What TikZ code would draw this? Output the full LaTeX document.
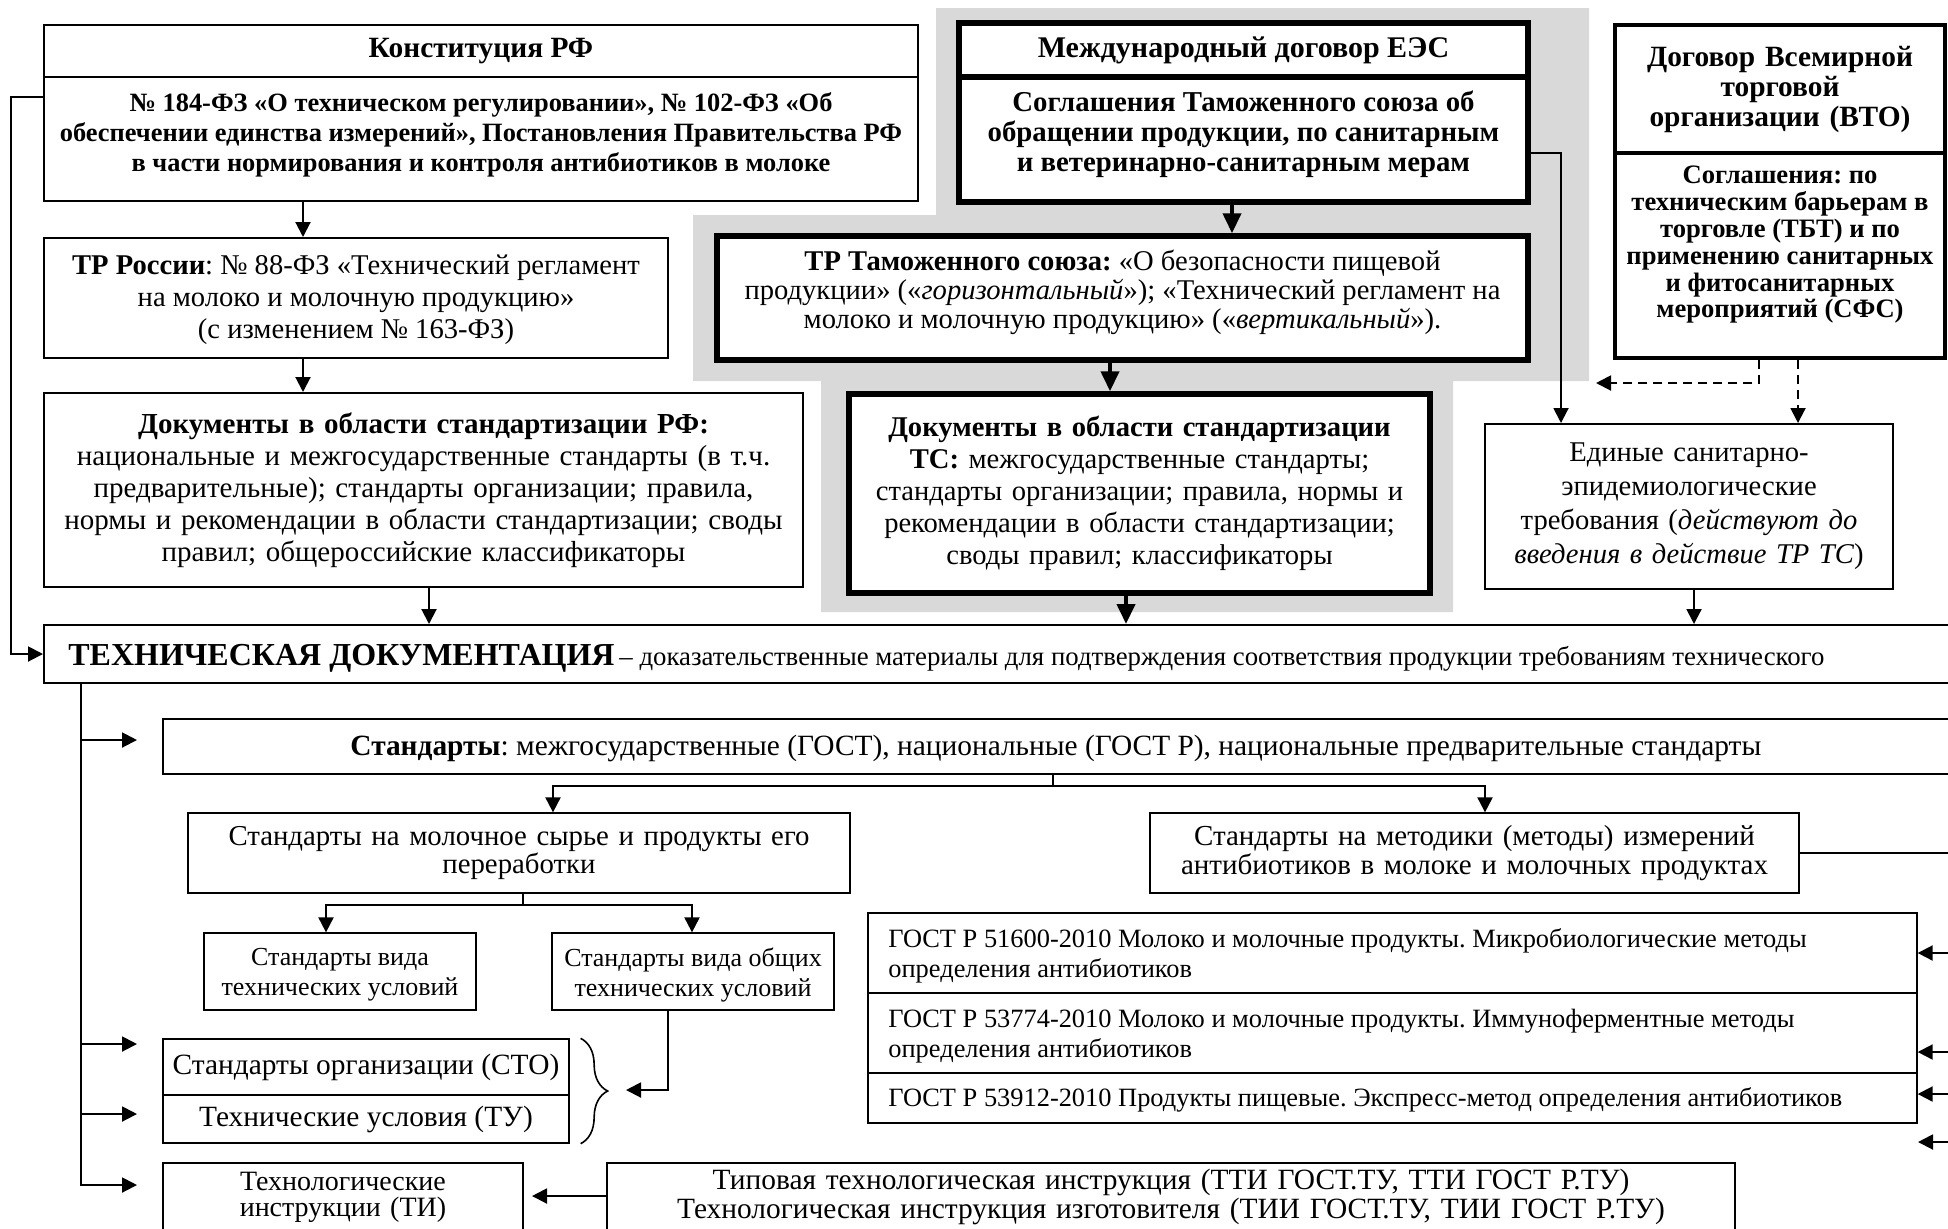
\documentclass[tikz,border=0pt]{standalone}
\usepackage{fontspec}
\setmainfont{Liberation Serif}
\usetikzlibrary{arrows.meta,decorations.pathreplacing}
\definecolor{shadegray}{RGB}{217,217,217}
\frenchspacing
\tikzset{
  box/.style={draw, line width=0.65pt, fill=white, inner sep=0pt, align=center},
  boxm/.style={box, line width=1pt},
  boxw/.style={box, line width=1.75pt},
  boxt/.style={box, line width=2.75pt},
  txt/.style={inner sep=0pt, align=center},
  ln/.style={line width=1pt},
  arr/.style={line width=1pt, -{Triangle[length=7.5pt,width=7.5pt]}},
  arrt/.style={line width=2pt, -{Triangle[length=10pt,width=9pt]}},
  arrd/.style={arr, dash pattern=on 4.5pt off 3pt},
}
\begin{document}
\begin{tikzpicture}[x=0.5pt,y=-0.5pt]
\useasboundingbox (0,0) rectangle (1948,1228);
\clip (0,0) rectangle (1948,1228);
\fill[white] (0,0) rectangle (1948,1228);
% gray background
\fill[shadegray] (936,8) -- (1589,8) -- (1589,381) -- (1453,381) -- (1453,612) -- (821,612) -- (821,381) -- (693,381) -- (693,215) -- (936,215) -- cycle;

% ---- top left
\node[boxm, font=\fontsize{14.7}{15}\selectfont\bfseries, minimum width=437pt, minimum height=26pt] (konstH) at (481,51) {Конституция РФ};
\node[boxm, minimum width=437pt, minimum height=62pt] (konstB) at (481,139) {};
\node[txt, font=\fontsize{13.2}{15}\selectfont\bfseries] (konstBT) at (481,135)
 {№ 184-ФЗ «О техническом регулировании», № 102-ФЗ «Об\\обеспечении единства измерений», Постановления Правительства РФ\\в части нормирования и контроля антибиотиков в молоке};
\node[boxm, minimum width=312pt, minimum height=60pt] (trRu) at (356,298) {};
\node[txt, font=\fontsize{14.3}{16}\selectfont] (trRuT) at (356,300)
 {\textbf{ТР России}: № 88-ФЗ «Технический регламент\\на молоко и молочную продукцию»\\(с изменением № 163-ФЗ)};
\node[boxm, font=\fontsize{14.5}{16}\selectfont, minimum width=379.5pt, minimum height=97pt, text width=376pt] (docRu) at (423.5,490)
 {\textbf{Документы в области стандартизации РФ:}\\национальные и межгосударственные стандарты (в т.ч.\\предварительные); стандарты организации; правила,\\нормы и рекомендации в области стандартизации; своды\\правил; общероссийские классификаторы};

% ---- middle (EES)
\node[boxt, font=\fontsize{15}{15}\selectfont\bfseries, minimum width=284.5pt, minimum height=27pt] (eesH) at (1243.5,50) {Международный договор ЕЭС};
\node[boxt, minimum width=284.5pt, minimum height=62.5pt] (eesB) at (1243.5,139.5) {};
\node[txt, font=\fontsize{14.4}{15}\selectfont\bfseries] (eesBT) at (1243.5,134)
 {Соглашения Таможенного союза об\\обращении продукции, по санитарным\\и ветеринарно-санитарным мерам};
\node[boxt, minimum width=405.5pt, minimum height=62pt] (trTs) at (1122.5,298) {};
\node[txt, font=\fontsize{14.3}{14.5}\selectfont] (trTsT) at (1122.5,292)
 {\textbf{ТР Таможенного союза:} «О безопасности пищевой\\продукции» («\textit{горизонтальный}»); «Технический регламент на\\молоко и молочную продукцию» («\textit{вертикальный}»).};
\node[boxt, font=\fontsize{14.3}{16}\selectfont, minimum width=290.5pt, minimum height=99.5pt, text width=287pt] (docTs) at (1139.5,493.5)
 {\textbf{Документы в области стандартизации}\\\textbf{ТС:} межгосударственные стандарты;\\стандарты организации; правила, нормы и\\рекомендации в области стандартизации;\\своды правил; классификаторы};

% ---- right (WTO)
\node[boxw, font=\fontsize{14.7}{15}\selectfont\bfseries, minimum width=165pt, minimum height=64pt, text width=162pt] (wtoH) at (1780,89)
 {Договор Всемирной\\торговой\\организации (ВТО)};
\node[boxw, minimum width=165pt, minimum height=102.5pt] (wtoB) at (1780,255.5) {};
\node[txt, font=\fontsize{13.3}{13.4}\selectfont\bfseries] (wtoBT) at (1780,245)
 {Соглашения: по\\техническим барьерам в\\торговле (ТБТ) и по\\применению санитарных\\и фитосанитарных\\мероприятий (СФС)};
\node[boxm, font=\fontsize{14.3}{17}\selectfont, minimum width=204pt, minimum height=82.5pt, text width=202pt] (edin) at (1689,506.5)
 {Единые санитарно-\\эпидемиологические\\требования (\textit{действуют до}\\\textit{введения в действие ТР ТС})};

% ---- technical documentation
\node[boxm, minimum width=958pt, minimum height=29pt] (tech) at (1002,654) {};
\node[txt, anchor=base west] (techT) at (68,665)
 {{\fontsize{16}{18}\selectfont\bfseries ТЕХНИЧЕСКАЯ ДОКУМЕНТАЦИЯ} {\fontsize{13.4}{14}\selectfont – доказательственные материалы для подтверждения соответствия продукции требованиям технического}};

% ---- standards
\node[box, minimum width=898.5pt, minimum height=27.5pt] (std) at (1061.5,746.5) {};
\node[txt, anchor=base west, font=\fontsize{14.7}{15}\selectfont] (stdT) at (350,755)
 {\textbf{Стандарты}: межгосударственные (ГОСТ), национальные (ГОСТ Р), национальные предварительные стандарты};
\node[box, font=\fontsize{14.4}{14}\selectfont, minimum width=331pt, minimum height=40pt, text width=328pt] (molo) at (519,853)
 {Стандарты на молочное сырье и продукты его\\переработки};
\node[box, font=\fontsize{14.5}{14.5}\selectfont, minimum width=324.5pt, minimum height=40pt, text width=322pt] (meth) at (1474.5,853)
 {Стандарты на методики (методы) измерений\\антибиотиков в молоке и молочных продуктах};
\node[box, minimum width=136pt, minimum height=38.5pt] (vidTU) at (340,971.5) {};
\node[txt, font=\fontsize{13}{15}\selectfont] (vidTUT) at (340,975)
 {Стандарты вида\\технических условий};
\node[box, minimum width=141pt, minimum height=38.5pt] (obTU) at (693,971.5) {};
\node[txt, font=\fontsize{13}{15}\selectfont] (obTUT) at (693,975)
 {Стандарты вида общих\\технических условий};
\node[box, font=\fontsize{14.7}{15}\selectfont, minimum width=203pt, minimum height=28pt] (sto) at (366,1067) {Стандарты организации (СТО)};
\node[box, font=\fontsize{14.7}{15}\selectfont, minimum width=203pt, minimum height=24pt] (tu) at (366,1119) {Технические условия (ТУ)};
\node[box, font=\fontsize{14}{13}\selectfont, minimum width=180pt, minimum height=34pt, text width=178pt] (ti) at (343,1197)
 {Технологические\\инструкции (ТИ)};
\node[box, font=\fontsize{14.7}{12.5}\selectfont, minimum width=564pt, minimum height=34pt, text width=562pt] (typ) at (1171,1197)
 {Типовая технологическая инструкция (ТТИ ГОСТ.ТУ, ТТИ ГОСТ Р.ТУ)\\Технологическая инструкция изготовителя (ТИИ ГОСТ.ТУ, ТИИ ГОСТ Р.ТУ)};
\node[box, minimum width=524.5pt, minimum height=40pt] (g1) at (1392.5,953) {};
\node[box, minimum width=524.5pt, minimum height=40pt] (g2) at (1392.5,1033) {};
\node[box, minimum width=524.5pt, minimum height=25pt] (g3) at (1392.5,1098) {};
\node[txt, align=left, anchor=west, font=\fontsize{13.2}{15}\selectfont] (g1T) at (888,956)
 {ГОСТ Р 51600-2010 Молоко и молочные продукты. Микробиологические методы\\определения антибиотиков};
\node[txt, align=left, anchor=west, font=\fontsize{13.2}{15}\selectfont] (g2T) at (888,1036)
 {ГОСТ Р 53774-2010 Молоко и молочные продукты. Иммуноферментные методы\\определения антибиотиков};
\node[txt, align=left, anchor=west, font=\fontsize{13.2}{15}\selectfont] (g3T) at (888,1100)
 {ГОСТ Р 53912-2010 Продукты пищевые. Экспресс-метод определения антибиотиков};

% ---- helper coordinates
\coordinate (v1) at (303,0);
\coordinate (v2) at (429,0);
\coordinate (v3) at (1232,0);
\coordinate (v4) at (1110,0);
\coordinate (v5) at (1126,0);
\coordinate (v6) at (1561,153);
\coordinate (v7) at (1759,383);
\coordinate (v8) at (1596,383);
\coordinate (v9) at (1798,0);
\coordinate (v10) at (1694,0);
\coordinate (fb) at (11,97);
\coordinate (tr) at (81,0);
\coordinate (a1) at (137,740);
\coordinate (a2) at (137,1044);
\coordinate (a3) at (137,1114);
\coordinate (a4) at (137,1185);
\coordinate (j1) at (1053,786);
\coordinate (m1) at (553,0);
\coordinate (m2) at (1485,0);
\coordinate (j2) at (523,905);
\coordinate (d1) at (326,0);
\coordinate (d2) at (692,0);
\coordinate (e1) at (668,0);
\coordinate (e2) at (626,1090);
\coordinate (rE) at (1965,0);
\coordinate (b2) at (0,1052);
\coordinate (b3) at (0,1094);
\coordinate (b4) at (1918,1142);
\coordinate (t1) at (532,1196);

% ---- connectors
\draw[arr] (konstB.south -| v1) -- (trRu.north -| v1);
\draw[arr] (trRu.south -| v1) -- (docRu.north -| v1);
\draw[arr] (docRu.south -| v2) -- (tech.north -| v2);
\draw[arrt] (eesB.south -| v3) -- (trTs.north -| v3);
\draw[arrt] (trTs.south -| v4) -- (docTs.north -| v4);
\draw[arrt] (docTs.south -| v5) -- (tech.north -| v5);
\draw[arr] (eesB.east |- v6) -| (edin.north -| v6);
\draw[arrd] (wtoB.south -| v7) |- (v8);
\draw[arrd] (wtoB.south -| v9) -- (edin.north -| v9);
\draw[arr] (edin.south -| v10) -- (tech.north -| v10);
\draw[arr] (konstB.west |- fb) -- (fb) |- (tech.west);
% trunk
\draw[arr] (tech.south -| tr) |- (a4);
\draw[arr] (tr |- a1) -- (a1);
\draw[arr] (tr |- a2) -- (a2);
\draw[arr] (tr |- a3) -- (a3);
% standards tree
\draw[ln] (std.south -| j1) -- (j1);
\draw[arr] (j1) -| (molo.north -| m1);
\draw[arr] (j1) -| (meth.north -| m2);
\draw[ln] (molo.south -| j2) -- (j2);
\draw[arr] (j2) -| (vidTU.north -| d1);
\draw[arr] (j2) -| (obTU.north -| d2);
\draw[arr] (obTU.south -| e1) |- (e2);
\draw[line width=0.8pt, decorate, decoration={brace, amplitude=13.5pt}] (sto.north east) ++(11,0) -- ([xshift=5.5pt]tu.south east);
% right side
\draw[ln] (meth.east) -- (meth.east -| rE);
\draw[arr] (rE |- g1.east) -- (g1.east);
\draw[arr] (rE |- b2) -- (g2.east |- b2);
\draw[arr] (rE |- b3) -- (g3.east |- b3);
\draw[arr] (rE |- b4) -- (b4);
\draw[arr] (typ.west |- t1) -- (t1);
\end{tikzpicture}
\end{document}
